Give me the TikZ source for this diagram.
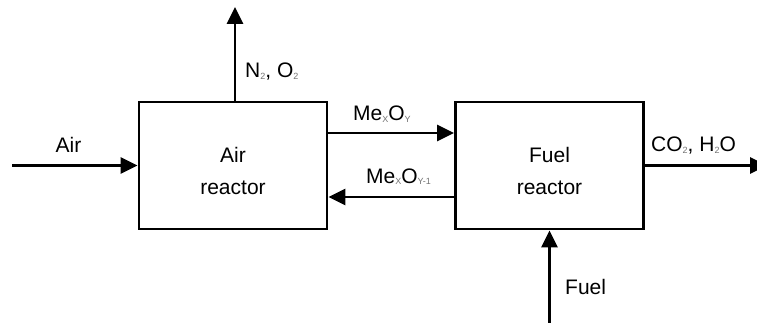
\documentclass[tikz,border=0pt]{standalone}
\usepackage{fontspec}
\setmainfont{Liberation Sans}
\usetikzlibrary{arrows.meta,calc,positioning}

\newcommand{\chemsub}[1]{\raisebox{-1.8pt}{\fontsize{9}{9}\selectfont\color{black!55}#1}}

\tikzset{
  reactor/.style={draw,line width=2.8pt,minimum width=188pt,minimum height=127pt,align=center,text height=59pt,font=\fontsize{21}{32}\selectfont},
  flow/.style={line width=2.8pt,-{Triangle[length=17pt,width=16pt]}},
  lbl/.style={font=\fontsize{21}{25}\selectfont,inner sep=0pt}
}

\begin{document}
\begin{tikzpicture}[x=1pt,y=-1pt]
  \useasboundingbox (0,0) rectangle (757,323);
  \node[reactor] (air) at (233,165.5) {Air\\reactor};
  \node[reactor] (fuel) at (549.5,165.5) {Fuel\\reactor};
  \coordinate (airin) at (12,165.5);
  \coordinate (exhaust) at (235,7);
  \coordinate (fuelin) at (549.5,330);
  \coordinate (products) at (767,165.5);
  % streams
  \draw[flow] (airin) -- (air.west);
  \draw[flow] (air.north -| exhaust) -- (exhaust);
  \draw[flow] ([yshift=32.5pt]air.east) -- ([yshift=32.5pt]fuel.west);
  \draw[flow] ([yshift=-31.5pt]fuel.west) -- ([yshift=-31.5pt]air.east);
  \draw[flow] (fuel.east) -- (products);
  \draw[flow] (fuelin) -- (fuel.south);
  % stream labels
  \node[lbl,anchor=base] (airlbl) at (68.5,153) {Air};
  \node[lbl,anchor=base west] (exhaustlbl) at (245,78) {N\chemsub{2}, O\chemsub{2}};
  \node[lbl,anchor=base west] (oxlbl) at (353,121) {Me\chemsub{X}O\chemsub{Y}};
  \node[lbl,anchor=base west] (redlbl) at (366,183) {Me\chemsub{X}O\chemsub{Y-1}};
  \node[lbl,anchor=base west] (productslbl) at (651,152) {CO\chemsub{2}, H\chemsub{2}O};
  \node[lbl,anchor=base west] (fuellbl) at (565,294) {Fuel};
\end{tikzpicture}
\end{document}
